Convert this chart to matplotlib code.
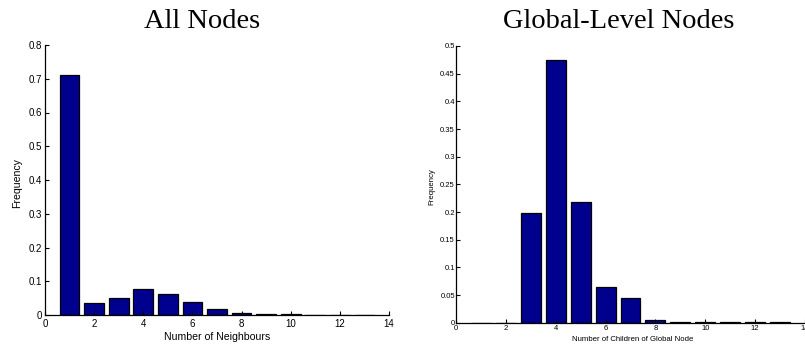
import matplotlib
matplotlib.use("Agg")
import matplotlib.pyplot as plt
import numpy as np

# Degree distribution of all nodes
neighbour_counts = [1, 2, 3, 4, 5, 6, 7, 8, 9, 10, 11, 12, 13]
neighbour_freq = [0.712, 0.0354, 0.0505, 0.0785, 0.0635, 0.0384, 0.0177,
                  0.0069, 0.003, 0.0015, 0.001, 0.001, 0.0005]

# Number of children of each global-level node
children_counts = [1, 2, 3, 4, 5, 6, 7, 8, 9, 10, 11, 12, 13]
children_freq = [0.0, 0.0, 0.199, 0.474, 0.218, 0.0645, 0.0446,
                 0.004, 0.0005, 0.0005, 0.0005, 0.0005, 0.0005]

left_yticks = [0, 0.1, 0.2, 0.3, 0.4, 0.5, 0.6, 0.7, 0.8]
left_yticklabels = ["0", "0.1", "0.2", "0.3", "0.4", "0.5", "0.6", "0.7", "0.8"]
right_yticks = [0, 0.05, 0.1, 0.15, 0.2, 0.25, 0.3, 0.35, 0.4, 0.45, 0.5]
right_yticklabels = ["0", "0.05", "0.1", "0.15", "0.2", "0.25", "0.3",
                     "0.35", "0.4", "0.45", "0.5"]
xticks = [0, 2, 4, 6, 8, 10, 12, 14]

W, H = 805, 347
fig = plt.figure(figsize=(W / 100, H / 100), dpi=100)
sans = ["Liberation Sans", "DejaVu Sans"]
serif = ["Liberation Serif", "DejaVu Serif"]
bar_color = "#00008F"


def px_axes(x0, x1, ytop, ybot):
    return fig.add_axes([x0 / W, (H - ybot) / H, (x1 - x0) / W, (ybot - ytop) / H])


def style(ax, tick_size, xpad, ypad):
    for side in ("top", "right"):
        ax.spines[side].set_visible(False)
    for side in ("left", "bottom"):
        ax.spines[side].set_linewidth(0.9)
    ax.tick_params(direction="in", length=3, width=0.8, labelsize=tick_size)
    ax.tick_params(axis="x", pad=xpad)
    ax.tick_params(axis="y", pad=ypad)
    for lab in ax.get_xticklabels() + ax.get_yticklabels():
        lab.set_family(sans)


# Left panel
ax1 = px_axes(45, 389, 45, 315)
ax1.bar(neighbour_counts, neighbour_freq, width=0.8, color=bar_color,
        edgecolor="black", linewidth=0.9)
ax1.set_xlim(0, 14)
ax1.set_ylim(0, 0.8)
ax1.set_xticks(xticks)
ax1.set_yticks(left_yticks)
ax1.set_yticklabels(left_yticklabels)
style(ax1, 7, 3.2, 2.4)
ax1.set_xlabel("Number of Neighbours", family=sans, fontsize=7.6)
ax1.xaxis.set_label_coords(0.5, -0.081)
ax1.xaxis.label.set_va("center")
ax1.set_ylabel("Frequency", family=sans, fontsize=7.6)
ax1.yaxis.set_label_coords(-0.081, 0.49)
ax1.yaxis.label.set_va("center")

# Right panel
ax2 = px_axes(456, 805, 46, 322.7)
ax2.bar(children_counts, children_freq, width=0.8, color=bar_color,
        edgecolor="black", linewidth=0.9)
ax2.set_xlim(0, 14)
ax2.set_ylim(0, 0.5)
ax2.set_xticks(xticks)
ax2.set_yticks(right_yticks)
ax2.set_yticklabels(right_yticklabels)
style(ax2, 5.5, 1.8, 0.8)
ax2.set_xlabel("Number of Children of Global Node", family=sans, fontsize=5.6)
ax2.xaxis.set_label_coords(0.505, -0.059)
ax2.xaxis.label.set_va("center")
ax2.set_ylabel("Frequency", family=sans, fontsize=5.6)
ax2.yaxis.set_label_coords(-0.069, 0.49)
ax2.yaxis.label.set_va("center")

# Panel titles
fig.text(202.5 / W, (H - 28) / H, "All Nodes", family=serif, fontsize=20.5,
         ha="center", va="baseline")
fig.text(619 / W, (H - 28) / H, "Global-Level Nodes", family=serif, fontsize=20.5,
         ha="center", va="baseline")

fig.savefig("out.png", dpi=100)
